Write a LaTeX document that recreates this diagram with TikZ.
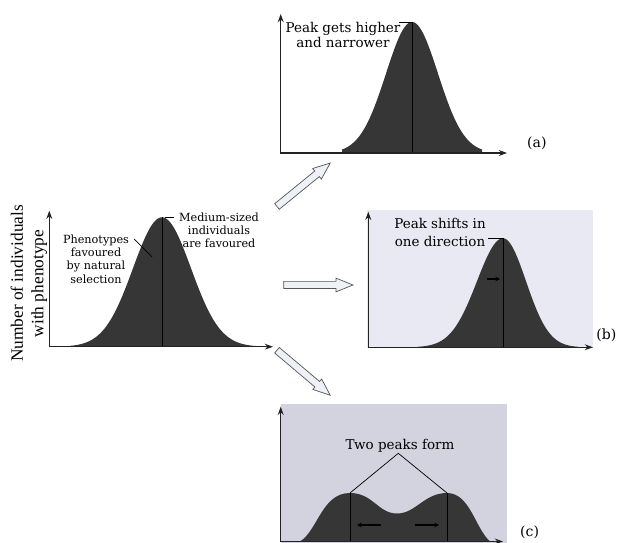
\documentclass[tikz,border=0pt]{standalone}
\usepackage{fontspec}
\setmainfont{DejaVu Serif}
\newfontfamily\axisfont{Liberation Serif}
\usetikzlibrary{arrows.meta,shapes.arrows}
\definecolor{curvefill}{HTML}{363636}
\definecolor{bgb}{HTML}{E9E9F3}
\definecolor{bgc}{HTML}{D3D3E0}
\definecolor{arrfill}{HTML}{EEF2F6}
\definecolor{arrline}{HTML}{555555}
\definecolor{axiscol}{HTML}{222222}
\tikzset{
  axis/.style={line width=1.1pt, draw=axiscol, {Stealth[length=7pt,width=5pt]}-{Stealth[length=7pt,width=5pt]}},
  peakline/.style={line width=0.7pt, draw=black},
  leader/.style={line width=0.6pt, draw=black},
  smallarr/.style={line width=1pt, draw=black, -{Stealth[length=4pt,width=4pt]}},
  lab/.style={align=center, inner sep=0pt, font=\fontsize{11.5}{13.5}\selectfont},
  labs/.style={align=center, inner sep=0pt, font=\fontsize{9.6}{11.3}\selectfont},
  panellab/.style={inner sep=0pt, font=\fontsize{12}{14}\selectfont},
  bigarrow/.style={single arrow, draw=arrline, fill=arrfill, line width=0.6pt,
    inner sep=0.0975cm, minimum width=0pt, single arrow head extend=0.0975cm,
    single arrow tip angle=44, anchor=tail},
}
\begin{document}
\begin{tikzpicture}[x=0.03cm,y=-0.03cm]
\useasboundingbox (0,0) rectangle (617,543);

% ---------- main panel ----------
\fill[curvefill] (70,346.7) -- plot[domain=70:257,samples=120,smooth]
  (\x,{346.7-129.4*exp(-0.5*((\x-162)/29)^2)}) -- (257,346.7) -- cycle;
\coordinate (pkm) at (162,217.3);
\coordinate (bm) at (162,346.7);
\draw[peakline] (pkm) -- (bm);
\draw[axis] (49.3,210.7) -- (49.3,346.7) -- (273,346.7);
\node[rotate=90, align=center, inner sep=0pt, font=\axisfont\fontsize{14.8}{17.5}\selectfont] (ylab) at (29,283.5) {Number of individuals\\with phenotype};
\node[labs] (lm) at (219,230.5) {Medium-sized\\individuals\\are favoured};
\node[labs] (lp) at (96,259) {Phenotypes\\favoured\\by natural\\selection};
\coordinate (lmA) at (165,217.3);
\coordinate (lmB) at (174,217.3);
\draw[leader] (lmA) -- (lmB);
\coordinate (lpA) at (134,239);
\coordinate (lpB) at (152,257);
\draw[leader] (lpA) -- (lpB);

% ---------- panel (a) ----------
\fill[curvefill] (342,153) -- plot[domain=342:482,samples=120,smooth]
  (\x,{153-131*exp(-0.5*((\x-412)/26)^2)}) -- (482,153) -- cycle;
\coordinate (pka) at (412,22);
\coordinate (ba) at (412,153);
\draw[peakline] (pka) -- (ba);
\draw[axis] (280.7,14) -- (280.7,153) -- (507,153);
\node[lab] (la) at (343,35) {Peak gets higher\\and narrower};
\coordinate (laE) at (399,22);
\draw[leader] (laE) -- (pka);
\node[panellab, anchor=west] (tagA) at (527,143) {(a)};

% ---------- panel (b) ----------
\fill[bgb] (367,210) rectangle (593,348);
\fill[curvefill] (418,347.3) -- plot[domain=418:503,samples=80,smooth]
  (\x,{347.3-109*exp(-0.5*((\x-503)/26)^2)}) -- plot[domain=503:578,samples=80,smooth]
  (\x,{347.3-109*exp(-0.5*((\x-503)/23)^2)}) -- (578,347.3) -- cycle;
\coordinate (pkb) at (503,238.3);
\coordinate (bb) at (503,347.3);
\draw[peakline] (pkb) -- (bb);
\coordinate (sbA) at (487,279);
\coordinate (sbB) at (500,279);
\draw[smallarr] (sbA) -- (sbB);
\draw[axis] (368.3,211.7) -- (368.3,347.3) -- (593,347.3);
\node[lab, font=\fontsize{11.5}{15}\selectfont] (lb) at (440,232.5) {Peak shifts in\\one direction};
\coordinate (lbE) at (488,238.3);
\draw[leader] (lbE) -- (pkb);
\node[panellab, anchor=east] (tagB) at (616.5,335) {(b)};

% ---------- panel (c) ----------
\fill[bgc] (281,404) rectangle (507,543);
\fill[curvefill] (300,541.5) .. controls (318,530) and (322,493) .. (350,493)
  .. controls (373,493) and (378,513.5) .. (397,513.5)
  .. controls (416,513.5) and (424,493) .. (447,493)
  .. controls (470,493) and (475,528) .. (490,541.5) -- cycle;
\coordinate (pkc1) at (350,493);
\coordinate (pkc2) at (447,493);
\coordinate (bc1) at (350,541.5);
\coordinate (bc2) at (447,541.5);
\draw[peakline] (pkc1) -- (bc1);
\draw[peakline] (pkc2) -- (bc2);
\coordinate (scA) at (381,525);
\coordinate (scB) at (357,525);
\coordinate (scC) at (415,525);
\coordinate (scD) at (439,525);
\draw[smallarr] (scA) -- (scB);
\draw[smallarr] (scC) -- (scD);
\draw[axis] (280.7,406.7) -- (280.7,541.5) -- (503,541.5);
\node[lab] (lc) at (400,446) {Two peaks form};
\coordinate (apex) at (398.3,453.3);
\draw[leader] (pkc1) -- (apex) -- (pkc2);
\node[panellab, anchor=west] (tagC) at (520,532) {(c)};

% ---------- block arrows ----------
\node[bigarrow, minimum height=2.06cm, rotate=39.2] (arrA) at (276.7,206.7) {};
\node[bigarrow, minimum height=2.08cm, rotate=0] (arrB) at (283.3,285) {};
\node[bigarrow, minimum height=2.09cm, rotate=-40.2] (arrC) at (276.7,350) {};
\end{tikzpicture}
\end{document}
